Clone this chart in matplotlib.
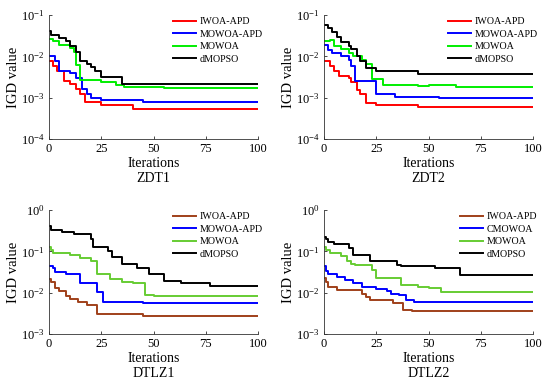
import matplotlib
matplotlib.use('Agg')
import matplotlib.pyplot as plt
from matplotlib.ticker import LogLocator, NullLocator, LogFormatterMathtext

plt.rcParams['font.family'] = ['Liberation Serif', 'DejaVu Serif']
plt.rcParams['mathtext.fontset'] = 'stix'

labels_zdt = ['IWOA-APD', 'MOWOA-APD', 'MOWOA', 'dMOPSO']
labels_dtlz2 = ['IWOA-APD', 'CMOWOA', 'MOWOA', 'dMOPSO']

# step curves: iterations where the value changes, and the value from there on
zdt1_it = [
    [0, 2, 4, 7, 10, 13, 15, 17, 25, 40, 100],
    [0, 3, 5, 10, 13, 16, 18, 20, 25, 45, 100],
    [0, 2, 5, 10, 12, 13, 15, 25, 32, 36, 55, 100],
    [0, 1, 5, 8, 10, 13, 15, 18, 20, 22, 25, 35, 53, 100],
]
zdt1_val = [
    [7.5e-3, 6e-3, 4.5e-3, 2.5e-3, 2.2e-3, 1.6e-3, 1.2e-3, 8e-4, 6.6e-4, 5.3e-4, 5.3e-4],
    [1e-2, 7.5e-3, 4.3e-3, 4e-3, 3e-3, 1.6e-3, 1.2e-3, 9.6e-4, 8.8e-4, 7.7e-4, 7.7e-4],
    [2.7e-2, 2.3e-2, 1.9e-2, 1.6e-2, 1.3e-2, 6.2e-3, 2.7e-3, 2.4e-3, 2.0e-3, 1.8e-3, 1.7e-3, 1.7e-3],
    [4e-2, 3.3e-2, 2.8e-2, 2.3e-2, 1.8e-2, 1.3e-2, 7.5e-3, 6.5e-3, 5.5e-3, 4.5e-3, 3.2e-3, 2.2e-3, 2.1e-3, 2.1e-3],
]

zdt2_it = [
    [0, 3, 5, 7, 12, 13, 16, 17, 20, 25, 45, 100],
    [0, 2, 4, 8, 12, 13, 15, 25, 34, 55, 100],
    [0, 3, 5, 8, 12, 14, 18, 20, 23, 28, 45, 50, 63, 100],
    [0, 2, 4, 6, 8, 12, 13, 16, 17, 20, 25, 45, 100],
]
zdt2_val = [
    [7.5e-3, 6e-3, 4.5e-3, 3.4e-3, 3e-3, 2.4e-3, 1.5e-3, 1.2e-3, 7.3e-4, 6.8e-4, 6e-4, 6e-4],
    [1.9e-2, 1.4e-2, 1.2e-2, 1e-2, 8e-3, 6e-3, 2.6e-3, 1.25e-3, 1.05e-3, 1.0e-3, 1.0e-3],
    [2.3e-2, 2.5e-2, 1.8e-2, 1.5e-2, 1.2e-2, 1e-2, 8e-3, 6.5e-3, 2.9e-3, 2.0e-3, 1.9e-3, 2.0e-3, 1.8e-3, 1.8e-3],
    [5.7e-2, 4.8e-2, 3.8e-2, 3e-2, 2.2e-2, 1.8e-2, 1.5e-2, 1e-2, 7.5e-3, 5.1e-3, 4.4e-3, 3.8e-3, 3.8e-3],
]

dtlz1_it = [
    [0, 1, 3, 5, 8, 10, 14, 18, 23, 45, 100],
    [0, 2, 3, 8, 15, 23, 26, 45, 55, 100],
    [0, 1, 2, 10, 15, 20, 23, 29, 35, 40, 46, 50, 70, 100],
    [0, 1, 6, 12, 20, 21, 28, 30, 35, 42, 48, 55, 63, 77, 100],
]
dtlz1_val = [
    [2.2e-2, 1.8e-2, 1.3e-2, 1.1e-2, 8.5e-3, 7e-3, 6e-3, 5e-3, 3e-3, 2.8e-3, 2.8e-3],
    [4.5e-2, 4e-2, 3.2e-2, 2.8e-2, 1.7e-2, 1.05e-2, 6e-3, 5.7e-3, 5.5e-3, 5.5e-3],
    [0.13, 0.11, 0.09, 0.08, 0.07, 0.06, 0.029, 0.022, 0.018, 0.017, 8.8e-3, 8.5e-3, 8.2e-3, 8.2e-3],
    [0.42, 0.33, 0.3, 0.27, 0.2, 0.13, 0.1, 0.074, 0.05, 0.039, 0.029, 0.019, 0.017, 0.0145, 0.0145],
]

dtlz2_it = [
    [0, 1, 2, 6, 18, 20, 22, 33, 38, 42, 100],
    [0, 1, 2, 6, 10, 14, 18, 25, 30, 32, 36, 39, 43, 48, 100],
    [0, 1, 3, 8, 11, 13, 15, 23, 25, 37, 45, 50, 56, 100],
    [0, 1, 2, 5, 12, 14, 22, 35, 37, 53, 65, 100],
]
dtlz2_val = [
    [2.3e-2, 1.8e-2, 1.4e-2, 1.15e-2, 9.5e-3, 7.7e-3, 6.6e-3, 5.7e-3, 3.8e-3, 3.6e-3, 3.6e-3],
    [4.3e-2, 3.4e-2, 2.8e-2, 2.4e-2, 2e-2, 1.7e-2, 1.4e-2, 1.2e-2, 1.1e-2, 9.5e-3, 8.8e-3, 6.5e-3, 6e-3, 5.8e-3, 5.8e-3],
    [0.13, 0.11, 0.09, 0.075, 0.06, 0.05, 0.046, 0.035, 0.023, 0.015, 0.0135, 0.013, 0.0105, 0.0105],
    [0.22, 0.2, 0.17, 0.15, 0.12, 0.082, 0.06, 0.047, 0.043, 0.039, 0.027, 0.027],
]

colors_zdt = ['#ff0000', '#0000ff', '#00ee00', '#000000']
colors_dtlz = ['#a0401a', '#0000ff', '#66cc33', '#000000']

panels = [
    ('ZDT1', zdt1_it, zdt1_val, labels_zdt, colors_zdt, (1e-4, 1e-1)),
    ('ZDT2', zdt2_it, zdt2_val, labels_zdt, colors_zdt, (1e-4, 1e-1)),
    ('DTLZ1', dtlz1_it, dtlz1_val, labels_zdt, colors_dtlz, (1e-3, 1e0)),
    ('DTLZ2', dtlz2_it, dtlz2_val, labels_dtlz2, colors_dtlz, (1e-3, 1e0)),
]

positions = [
    [49 / 550, 1 - 139 / 390, 209 / 550, 124 / 390],
    [324 / 550, 1 - 139 / 390, 209 / 550, 124 / 390],
    [49 / 550, 1 - 334 / 390, 209 / 550, 124 / 390],
    [324 / 550, 1 - 334 / 390, 209 / 550, 124 / 390],
]

fig = plt.figure(figsize=(5.5, 3.9), dpi=100)

for pos, (name, its, vals, labels, colors, ylim) in zip(positions, panels):
    ax = fig.add_axes(pos)
    for it, v, lab, c in zip(its, vals, labels, colors):
        ax.step(it, v, where='post', color=c, lw=1.4, label=lab)
    ax.set_yscale('log')
    ax.set_xlim(0, 100)
    ax.set_ylim(*ylim)
    ax.set_xticks([0, 25, 50, 75, 100])
    ax.yaxis.set_major_locator(LogLocator(base=10, numticks=10))
    ax.yaxis.set_major_formatter(LogFormatterMathtext())
    ax.yaxis.set_minor_locator(NullLocator())
    ax.spines['top'].set_visible(False)
    ax.spines['right'].set_visible(False)
    for s in ['left', 'bottom']:
        ax.spines[s].set_linewidth(0.6)
        ax.spines[s].set_color('#333333')
    ax.tick_params(direction='in', length=2, width=0.5, labelsize=9, pad=3)
    ax.set_xlabel('Iterations\n' + name, fontsize=10, linespacing=1.25, labelpad=1)
    ax.set_ylabel('IGD value', fontsize=10.5, labelpad=1)
    ax.legend(loc='upper right', bbox_to_anchor=(1.05, 1.03), frameon=False,
              fontsize=7.2, handlelength=2.3, handletextpad=0.35, labelspacing=0.35,
              borderaxespad=0.2)

fig.savefig('out.png', dpi=100)
